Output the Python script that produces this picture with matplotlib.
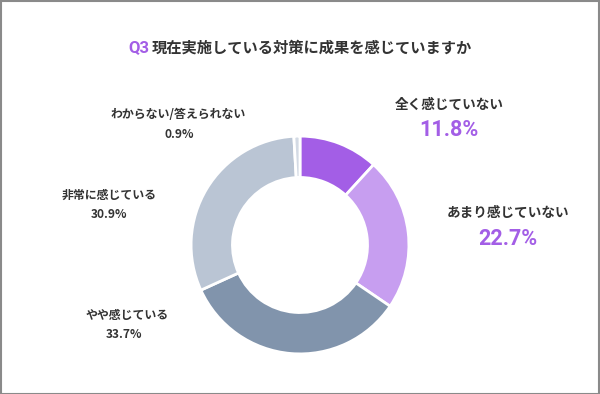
import matplotlib.pyplot as plt
from matplotlib.patches import Rectangle

plt.rcParams['font.family'] = ['Noto Sans CJK JP', 'DejaVu Sans']

# data, clockwise from the top
labels = ['全く感じていない', 'あまり感じていない', 'やや感じている', '非常に感じている', 'わからない/答えられない']
values = [11.8, 22.7, 33.7, 30.9, 0.9]
colors = ['#a35ee6', '#c79ef0', '#8194ac', '#bac5d4', '#d3dae4']

W, H = 600, 394
fig = plt.figure(figsize=(W / 100, H / 100), dpi=100)
fig.patch.set_facecolor('white')

# frame around the picture
fig.patches.append(Rectangle((0.5 / W, 0.5 / H), 1 - 1.5 / W, 1 - 1.5 / H,
                             transform=fig.transFigure, fill=False,
                             edgecolor='#8a8a8a', linewidth=1.5))

# donut
cx, cy, r = 300, 245, 110
ax = fig.add_axes([(cx - r) / W, 1 - (cy + r) / H, 2 * r / W, 2 * r / H])
ax.pie(values, colors=colors, startangle=90, counterclock=False,
       wedgeprops=dict(width=0.38, edgecolor='white', linewidth=2))
ax.set_xlim(-1.01, 1.01)
ax.set_ylim(-1.01, 1.01)
ax.set_aspect('equal')
ax.axis('off')


def px(x, y):
    return x / W, 1 - y / H


# title
fig.text(*px(149, 48), 'Q3', color='#a35ee6', fontsize=12, fontweight='bold',
         family=['Roboto', 'DejaVu Sans'], ha='right', va='center')
fig.text(*px(152, 48), '現在実施している対策に成果を感じていますか', color='#333333',
         fontsize=11, fontweight='bold', ha='left', va='center')

# label positions (pixel) for name and value
pos = [(449, 105, 449, 130), (508, 213, 508, 239), (127, 315, 124, 335),
       (109, 195, 109, 215), (178, 115, 179, 135)]
highlight = [True, True, False, False, False]

for lab, val, (x1, y1, x2, y2), hl in zip(labels, values, pos, highlight):
    if hl:
        fig.text(*px(x1, y1), lab, fontsize=9.8, fontweight='bold', color='#333333',
                 ha='center', va='center')
        fig.text(*px(x2, y2), f'{val}%', fontsize=15.5, fontweight='bold',
                 family=['Roboto', 'DejaVu Sans'],
                 color='#a35ee6', ha='center', va='center')
    else:
        fig.text(*px(x1, y1), lab, fontsize=8.6, fontweight='bold', color='#333333',
                 ha='center', va='center')
        fig.text(*px(x2, y2), f'{val}%', fontsize=8.6, fontweight='bold',
                 color='#333333', ha='center', va='center')

fig.savefig('out.png', dpi=100)
